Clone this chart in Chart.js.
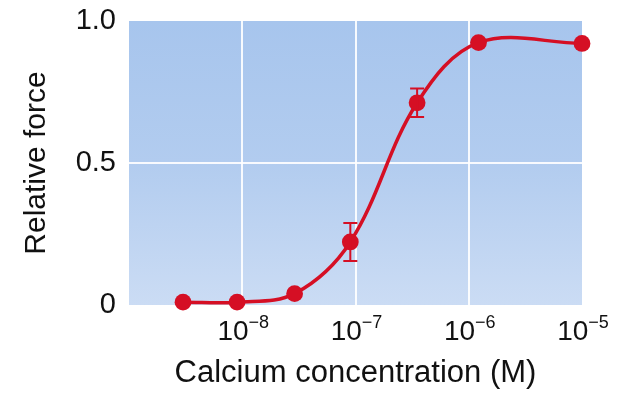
<!DOCTYPE html>
<html>
<head>
<meta charset="utf-8">
<script src="https://cdn.jsdelivr.net/npm/chart.js@4"></script>
<style>
  html, body { margin: 0; padding: 0; background: #ffffff; }
  #wrap { width: 621px; height: 395px; position: relative; }
</style>
</head>
<body>
<div id="wrap"><canvas id="c" width="621" height="395"></canvas></div>
<script>
// ---- Data ----
const concentrations = [3e-9, 9e-9, 2.9e-8, 9e-8, 3.5e-7, 1.22e-6, 1e-5];   // M
const relativeForce  = [0.01, 0.01, 0.04, 0.222, 0.712, 0.924, 0.921];
const errorBars      = [0, 0, 0, 0.067, 0.05, 0, 0];                        // +/- half range
const xTickValues    = [1e-8, 1e-7, 1e-6, 1e-5];
const xTickBase      = ['10', '10', '10', '10'];
const xTickExponents = ['\u22128', '\u22127', '\u22126', '\u22125'];
const yTickValues    = [0, 0.5, 1.0];
const yTickLabels    = ['0', '0.5', '1.0'];

const FONT = '"Liberation Sans", Arial, Helvetica, sans-serif';
const RED = '#d50f24';
Chart.defaults.font.family = FONT;
Chart.defaults.color = '#111111';

const points = concentrations.map((x, i) => ({ x: x, y: relativeForce[i] }));

const backgroundPlugin = {
  id: 'bg',
  beforeDraw(chart) {
    const { ctx, chartArea: a } = chart;
    ctx.save();
    ctx.fillStyle = '#ffffff';
    ctx.fillRect(0, 0, chart.width, chart.height);
    const g = ctx.createLinearGradient(0, a.top, 0, a.bottom);
    g.addColorStop(0, '#a7c5ed');
    g.addColorStop(0.5, '#b2ccef');
    g.addColorStop(1, '#cbdcf4');
    ctx.fillStyle = g;
    ctx.fillRect(a.left, a.top, a.right - a.left, a.bottom - a.top);
    ctx.restore();
  }
};

const errorBarPlugin = {
  id: 'errbars',
  afterDatasetsDraw(chart) {
    const { ctx, scales: { x, y } } = chart;
    ctx.save();
    ctx.strokeStyle = RED;
    ctx.lineWidth = 2;
    concentrations.forEach((c, i) => {
      const e = errorBars[i];
      if (!e) return;
      const px = x.getPixelForValue(c);
      const top = y.getPixelForValue(relativeForce[i] + e);
      const bot = y.getPixelForValue(relativeForce[i] - e);
      const hw = 7;
      ctx.beginPath();
      ctx.moveTo(px, top); ctx.lineTo(px, bot);
      ctx.moveTo(px - hw, top); ctx.lineTo(px + hw, top);
      ctx.moveTo(px - hw, bot); ctx.lineTo(px + hw, bot);
      ctx.stroke();
    });
    ctx.restore();
  }
};

const xTickPlugin = {
  id: 'xticks',
  afterDraw(chart) {
    const { ctx, scales: { x }, chartArea: a } = chart;
    ctx.save();
    ctx.fillStyle = '#111111';
    ctx.textBaseline = 'alphabetic';
    ctx.textAlign = 'left';
    xTickValues.forEach((v, i) => {
      const px = x.getPixelForValue(v);
      ctx.font = '28px ' + FONT;
      const wb = ctx.measureText(xTickBase[i]).width;
      ctx.font = '18px ' + FONT;
      const we = ctx.measureText(xTickExponents[i]).width;
      const start = px - (wb + we) / 2 + 1;
      ctx.font = '28px ' + FONT;
      ctx.fillText(xTickBase[i], start, a.bottom + 35);
      ctx.font = '18px ' + FONT;
      ctx.fillText(xTickExponents[i], start + wb, a.bottom + 23);
    });
    ctx.restore();
  }
};

new Chart(document.getElementById('c'), {
  type: 'line',
  data: {
    datasets: [{
      data: points,
      borderColor: RED,
      backgroundColor: RED,
      borderWidth: 3.5,
      tension: 0.36,
      pointRadius: 8.4,
      pointHoverRadius: 8.4,
      pointBorderWidth: 0,
      clip: false
    }]
  },
  options: {
    responsive: false,
    animation: false,
    events: [],
    layout: { padding: { left: 0, right: 39, top: 21, bottom: 0 } },
    plugins: { legend: { display: false }, tooltip: { enabled: false } },
    scales: {
      x: {
        type: 'logarithmic',
        min: 1e-9,
        max: 1e-5,
        afterBuildTicks(scale) { scale.ticks = xTickValues.map(v => ({ value: v })); },
        afterFit(scale) { scale.height = 90; scale.paddingLeft = 0; scale.paddingRight = 0; },
        ticks: { display: false },
        border: { display: false },
        grid: {
          drawTicks: false,
          lineWidth: 2,
          color: (c) => (c.tick && c.tick.value < 5e-6) ? 'rgba(255,255,255,0.9)' : 'rgba(0,0,0,0)'
        },
        title: {
          display: true,
          text: 'Calcium concentration (M)',
          font: { size: 31, family: FONT },
          color: '#111111',
          padding: { top: 49, bottom: 3 }
        }
      },
      y: {
        min: 0,
        max: 1,
        afterBuildTicks(scale) { scale.ticks = yTickValues.map(v => ({ value: v })); },
        afterFit(scale) { scale.width = 129; scale.paddingTop = 0; scale.paddingBottom = 0; },
        ticks: {
          padding: 13,
          font: { size: 29, family: FONT },
          color: '#111111',
          callback: (v) => yTickLabels[yTickValues.indexOf(v)]
        },
        border: { display: false },
        grid: {
          drawTicks: false,
          lineWidth: 2,
          color: (c) => (c.tick && c.tick.value === 0.5) ? 'rgba(255,255,255,0.9)' : 'rgba(0,0,0,0)'
        },
        title: {
          display: true,
          text: 'Relative force',
          font: { size: 30, family: FONT },
          color: '#111111',
          padding: { top: 19, bottom: 0 }
        }
      }
    }
  },
  plugins: [backgroundPlugin, errorBarPlugin, xTickPlugin]
});
</script>
</body>
</html>
